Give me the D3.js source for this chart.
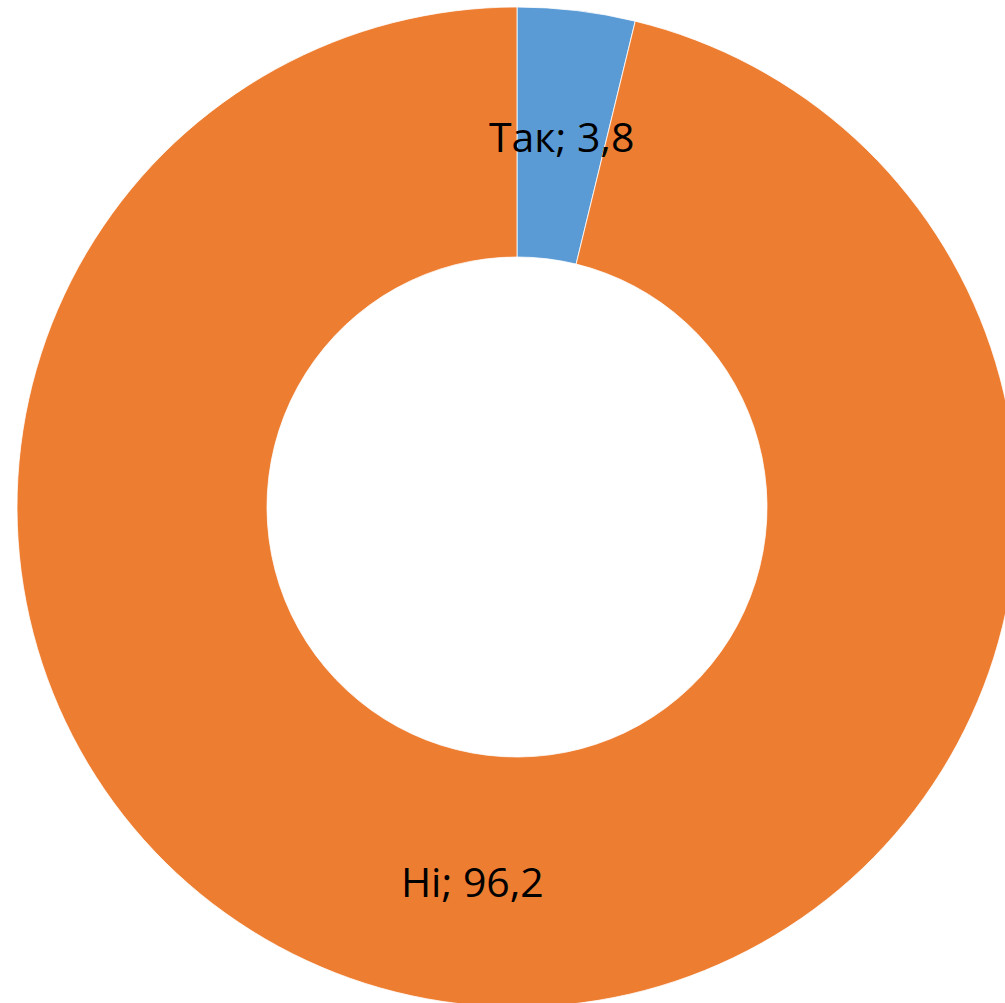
<!DOCTYPE html>
<html><head><meta charset="utf-8">
<script src="https://cdn.jsdelivr.net/npm/d3@7"></script>
<style>html,body{margin:0;padding:0;background:#fff;}svg{display:block;}</style>
</head><body>
<script>
const categories = ["Так", "Ні"];
const values = [3.8, 96.2];
const colors = ["#5B9BD5", "#ED7D31"];

const W = 1005, H = 1003;
const cx = 517, cy = 507, outerR = 500, innerR = 250;

const svg = d3.select("body").append("svg").attr("width", W).attr("height", H);
const g = svg.append("g").attr("transform", `translate(${cx},${cy})`);

const pie = d3.pie().sort(null).value(d => d.v);
const data = categories.map((c, i) => ({c, v: values[i], col: colors[i]}));
const arcs = pie(data);
const arc = d3.arc().innerRadius(innerR).outerRadius(outerR);

g.selectAll("path").data(arcs).enter().append("path")
  .attr("d", arc).attr("fill", d => d.data.col)
  .attr("stroke", "#fff").attr("stroke-width", 0.8);

const labelArc = d3.arc().innerRadius((innerR + outerR) / 2).outerRadius((innerR + outerR) / 2);
g.selectAll("text").data(arcs).enter().append("text")
  .attr("x", d => labelArc.centroid(d)[0])
  .attr("y", d => labelArc.centroid(d)[1])
  .attr("text-anchor", "middle")
  .attr("dy", "0.43em")
  .attr("font-family", "'Open Sans', sans-serif")
  .attr("font-size", 41)
  .attr("fill", "#000")
  .text(d => `${d.data.c}; ${String(d.data.v).replace(".", ",")}`);
</script>
</body></html>
